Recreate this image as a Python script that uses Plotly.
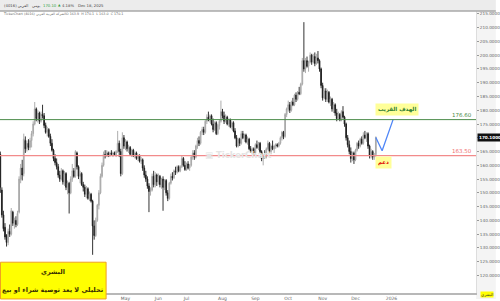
import pandas as pd
import plotly.graph_objects as go

# ---------------- data (daily OHLC) ----------------
opens = [
    164, 151, 142, 137.5, 134.5, 132, 136, 135, 143, 139, 140, 138.5, 143, 155, 159, 157, 169, 166, 168, 166.5,
    169, 171.5, 175, 180.5, 177, 179, 176, 178.5, 178, 174.5, 172, 173, 170.5, 168, 165.5, 162.5, 161, 159.5, 156.5, 155,
    158, 154, 157, 152, 153.5, 150, 155, 158, 156, 164.5, 159.5, 156, 157, 153, 152, 149.5, 151.5, 148, 149.5, 147,
    138, 134.5, 140, 145.5, 150, 156, 160, 164, 163.5, 164.5, 163.5, 164.5, 164, 164.5, 163.8, 165, 168, 165, 157, 170,
    167, 168.5, 166, 166.5, 164, 165.5, 163.5, 164.5, 162.5, 163.5, 161.5, 162, 159, 156.5, 155, 152.5, 150.5, 151, 156, 153,
    156.5, 154, 156, 153, 155, 152, 154.5, 150, 148, 153.5, 156, 155.5, 158, 157.5, 159.5, 158, 159.5, 162.5, 160, 158.5,
    160.5, 159, 160, 163, 164.5, 163, 167, 169, 168, 172, 173, 172, 176, 177.5, 176.5, 178, 175, 173, 175.5, 171.5,
    174.5, 176, 179.5, 178, 176, 177.5, 175, 176.5, 174, 175.5, 172.5, 170, 167, 169.5, 168, 171.5, 170, 171, 168.5, 169.5,
    166, 165, 166, 164.5, 167.5, 166.5, 168, 165, 162.5, 163.5, 163, 166, 168, 165, 167, 166, 167, 167.5, 167, 168,
    170, 172, 170.5, 178.5, 180.5, 182, 180, 183, 182, 185.5, 184, 186.5, 186, 189.5, 198, 195, 198, 196, 197.5, 200,
    197.5, 199.5, 197, 199, 198, 195, 189, 184.5, 187, 184, 186.5, 183, 184, 180.5, 182, 179, 177, 178.5, 176.5, 179.5,
    177.5, 175, 170, 167.5, 165, 162.5, 164.5, 162, 165.5, 168, 167, 169.5, 168, 171, 170, 171.5, 167, 163.5, 165, 163,
    163.9,
]
highs = [
    165, 152, 143.5, 139, 135, 137, 138.5, 144.5, 143.5, 141, 141.5, 143.5, 156, 160.5, 162, 171.5, 170.5, 169, 169.5, 170,
    172.5, 176, 183, 181, 180, 179.5, 179.5, 182, 179, 175.5, 174, 173.5, 171.5, 169.5, 166, 164, 162.5, 160.5, 158, 159,
    158.5, 158, 157.5, 154.5, 154, 156, 160.5, 159, 165.5, 165, 160, 158, 157.5, 154, 153, 152.5, 152, 150.5, 150, 147.5,
    140, 141, 146, 151, 157, 161, 165, 165.5, 165.5, 165, 165, 165.5, 165, 165, 165.5, 172.5, 169, 166, 172, 171,
    169.5, 169, 167.5, 167, 166, 166, 165, 165, 164, 164, 163, 162.5, 160, 158, 156, 153.5, 152, 157, 158, 157.5,
    157, 157, 156.5, 155.5, 156, 155, 155, 151, 154, 157, 157.5, 158.5, 159.5, 160, 160, 160, 163.5, 163, 161.5, 161,
    161.5, 160.5, 163.5, 165.5, 165.5, 167.5, 170, 170.5, 172.5, 174, 174, 176.5, 178.5, 179.5, 178.5, 178.5, 177, 176, 176, 175,
    176.5, 183.5, 180.5, 179.5, 178.5, 178, 177, 177, 176, 176, 173.5, 171, 170, 170, 172.5, 172.5, 171.5, 171.5, 170.5, 170,
    167, 166.5, 166.5, 168, 169, 168.5, 168.5, 165.5, 164, 165.5, 166.5, 169, 168.5, 167.5, 169, 167.5, 168, 168, 168.5, 170.5,
    172.5, 172.5, 179, 181, 183.5, 183, 183.5, 184.5, 186, 186.5, 187, 188.5, 190, 199, 212, 199, 199.5, 198, 201, 200.5,
    200.5, 201, 200.5, 201.5, 198.5, 195.5, 190, 188, 188, 187.5, 187, 185, 184.5, 183, 182.5, 180.5, 179.5, 179, 180, 181.5,
    178, 175.5, 171, 169, 166.5, 165, 165, 166, 168.5, 169, 170, 170.5, 172, 172.5, 172, 172, 167.5, 166, 165.5, 164.5,
    170.5,
]
lows = [
    150, 141, 136, 133, 130.5, 131, 134, 134.5, 138, 137, 137.5, 138, 142.5, 153.5, 154.5, 156, 164.5, 165, 165.5, 165.5,
    166.5, 170.5, 174.5, 176, 175.5, 175, 175.5, 177, 173.5, 171.5, 170.5, 170, 167, 165, 161.5, 160, 158.5, 155.5, 154, 154.5,
    153, 152.5, 151, 149.5, 142.5, 149.5, 154, 155.5, 155.5, 158.5, 155, 153.5, 152.5, 150.5, 148.5, 148, 147.5, 147, 146.5, 127.5,
    133, 134, 139.5, 144, 149.5, 155.5, 159.5, 162.5, 163, 163, 163, 163.5, 163, 163.5, 163, 164.5, 163, 156, 156.5, 166,
    165.5, 165, 164.5, 163.5, 163, 163, 162.5, 162, 161.5, 161, 160.5, 158, 155.5, 154, 151.5, 143, 149, 150.5, 152, 152,
    152.5, 153, 152, 151.5, 143.5, 151, 149, 147, 147.5, 153, 154.5, 155, 156.5, 157, 157.5, 157.5, 159, 159.5, 158, 158,
    158.5, 158, 159.5, 162, 162, 162.5, 166, 167, 167.5, 171, 171, 171.5, 175, 176, 175.5, 174.5, 172, 172.5, 171, 171,
    173, 175.5, 177, 175, 175.5, 174.5, 174, 173.5, 173, 172, 169.5, 166.5, 166.5, 167, 167.5, 169.5, 168.5, 168, 167.5, 165.5,
    164.5, 164, 163.5, 164, 166, 165.5, 164.5, 161.5, 160, 162.5, 162.5, 165.5, 164.5, 164, 165.5, 164.5, 166, 166.5, 166.5, 167.5,
    169, 169.5, 170, 177.5, 179.5, 179, 179.5, 181.5, 181.5, 183, 183.5, 185.5, 185.5, 189, 194, 193.5, 195.5, 194, 197, 196.5,
    197, 196, 196.5, 197, 194, 188, 183.5, 184, 183, 183, 182.5, 181.5, 179.5, 179, 178, 176, 176.5, 176, 176, 177,
    174, 169, 166.5, 164, 161, 161.5, 160.5, 161.5, 165, 166, 166.5, 167.5, 167.5, 169.5, 168.5, 166, 162.5, 162.5, 162, 162,
    163,
]
closes = [
    152, 142, 137, 134, 132, 136, 135, 143.5, 139, 140, 138.5, 142.5, 155, 159, 156.5, 169.5, 166, 168, 166.5, 169,
    171.5, 175, 180.5, 177, 179, 176, 178.5, 178, 174.5, 172, 173, 170.5, 168, 165.5, 162.5, 161, 159.5, 156.5, 155, 158,
    154, 157, 152, 153.5, 150, 155, 158, 156, 165, 159.5, 156, 157, 153, 152, 149.5, 151.5, 148, 149.5, 147, 138,
    134.5, 140, 145.5, 150, 156, 160, 164, 163.5, 164.5, 163.5, 164.5, 164, 164.5, 163.8, 165, 168, 165, 157, 170, 167,
    168.5, 166, 166.5, 164, 165.5, 163.5, 164.5, 162.5, 163.5, 161.5, 162, 159, 156.5, 155, 152.5, 150.5, 151, 156, 153, 156.5,
    154, 156, 153, 155, 152, 154.5, 150, 148, 153.5, 156, 155.5, 158, 157.5, 159.5, 158, 159.5, 162.5, 160, 158.5, 160.5,
    159, 160, 163, 164.5, 163, 167, 169, 168, 172, 173, 172, 176, 177.5, 176.5, 178, 175, 173, 175.5, 171.5, 174.5,
    176, 179.5, 178, 176, 177.5, 175, 176.5, 174, 175.5, 172.5, 170, 167, 169.5, 168, 171.5, 170, 171, 168.5, 169.5, 166,
    165, 166, 164.5, 167.5, 166.5, 168, 165, 162.5, 163.5, 163, 166, 168, 165, 167, 166, 167, 167.5, 167, 168, 170,
    172, 170.5, 178.5, 180.5, 182, 180, 183, 182, 185.5, 184, 186.5, 186, 189.5, 198, 195, 198, 196, 197.5, 200, 197.5,
    199.5, 197, 199, 198, 195, 189, 184.5, 187, 184, 186.5, 183, 184, 180.5, 182, 179, 177, 178.5, 176.5, 179.5, 177.5,
    175, 170, 167.5, 165, 162.5, 164.5, 162, 165.5, 168, 167, 169.5, 168, 171, 170, 171.5, 167, 163.5, 165, 163, 163.3,
    170.1,
]

# trading calendar (Sun-Thu, Tadawul holidays)
holidays = ["2025-02-23", "2025-03-27", "2025-03-30", "2025-03-31", "2025-04-01", "2025-04-02",
            "2025-04-03", "2025-06-05", "2025-06-08", "2025-06-09", "2025-06-10", "2025-09-23"]
calendar = pd.bdate_range("2024-12-31", periods=330, freq="C",
                          weekmask="Sun Mon Tue Wed Thu", holidays=holidays)
dates = calendar[:len(closes)]

# projection path (blue)
proj_dates = ["2025-12-18", "2025-12-24", "2026-01-04"]
proj_values = [170.1, 165.3, 176.6]

target_level = 176.60
support_level = 163.50
last_price = 170.10

month_ticks = ["2025-05-01", "2025-06-01", "2025-07-01", "2025-08-03", "2025-09-01",
               "2025-10-01", "2025-11-02", "2025-12-01", "2026-01-01"]
month_labels = ["May", "Jun", "Jul", "Aug", "Sep", "Oct", "Nov", "Dec", "2026"]
price_ticks = list(range(120, 216, 5))

# ---------------- figure ----------------
W, H = 500, 301
ML, MR, MT, MB = 0, 20, 11, 6
PW, PH = W - ML - MR, H - MT - MB

def px(x):
    return (x - ML) / PW

def py(y):
    return 1 - (y - MT) / PH

FONT = "DejaVu Sans, Liberation Sans, sans-serif"

fig = go.Figure()
fig.add_trace(go.Candlestick(
    x=dates, open=opens, high=highs, low=lows, close=closes,
    increasing=dict(line=dict(color="#a4a4a4", width=0.9), fillcolor="#d2d2d2"),
    decreasing=dict(line=dict(color="#1c1c1c", width=0.9), fillcolor="#1c1c1c"),
    whiskerwidth=0, hoverinfo="skip",
))
fig.add_trace(go.Scatter(x=proj_dates, y=proj_values, mode="lines",
                         line=dict(color="#4f86f7", width=1.3), hoverinfo="skip"))

x_start = calendar[0] - pd.Timedelta(hours=4.6)
x_end = calendar[304]

fig.update_layout(
    width=W, height=H, margin=dict(l=ML, r=MR, t=MT, b=MB),
    paper_bgcolor="white", plot_bgcolor="white", showlegend=False,
    font=dict(family=FONT, size=5, color="#555555"),
    xaxis=dict(
        type="date", range=[x_start, x_end], rangeslider=dict(visible=False),
        rangebreaks=[dict(bounds=["fri", "sun"]), dict(values=holidays)],
        tickvals=month_ticks, ticktext=month_labels, tickfont=dict(size=4.5, color="#666666"),
        showgrid=False, showline=True, linecolor="#b8b8b8", linewidth=2, ticks="", zeroline=False,
    ),
    yaxis=dict(
        side="right", range=[113.63, 216.05], tickvals=price_ticks,
        ticktext=[f"{v:.4f}" for v in price_ticks], tickfont=dict(size=4.2, color="#666666"),
        ticks="outside", ticklen=2, tickcolor="#999999", showgrid=False, zeroline=False,
        showline=True, linecolor="#dddddd", linewidth=1,
    ),
)

shapes = [
    # price-axis panel background
    dict(type="rect", xref="paper", yref="paper", x0=1, x1=1 + MR / PW, y0=py(H), y1=1,
         fillcolor="#f4f4f4", line=dict(width=0), layer="below"),
    # header strip
    dict(type="rect", xref="paper", yref="paper", x0=0, x1=1 + MR / PW, y0=1, y1=py(0),
         fillcolor="#ececec", line=dict(width=0)),
    dict(type="line", xref="paper", yref="paper", x0=0, x1=1 + MR / PW, y0=1, y1=1,
         line=dict(color="#a8a8a8", width=1.5)),
    # horizontal levels
    dict(type="line", xref="paper", yref="y", x0=0, x1=1, y0=target_level, y1=target_level,
         line=dict(color="#4c8c4a", width=1)),
    dict(type="line", xref="paper", yref="y", x0=0, x1=1, y0=support_level, y1=support_level,
         line=dict(color="#f28b8b", width=1.3)),
    # disclaimer box
    dict(type="rect", xref="paper", yref="paper", x0=px(0.5), x1=px(107), y0=py(301), y1=py(264),
         fillcolor="#ffff00", line=dict(color="#f0a020", width=1), layer="above"),
]
fig.update_layout(shapes=shapes)

ann = []

def note(x, y, text, size, color, xanchor="center", yanchor="middle", **kw):
    ann.append(dict(xref="paper", yref="paper", x=px(x), y=py(y), text=text, showarrow=False,
                    xanchor=xanchor, yanchor=yanchor, font=dict(size=size, color=color), **kw))

# level labels
ann.append(dict(xref="paper", yref="y", x=px(478), y=target_level, text="176.60", showarrow=False,
                xanchor="right", yanchor="bottom", font=dict(size=5.5, color="#4c8c4a")))
ann.append(dict(xref="paper", yref="y", x=px(478), y=support_level, text="163.50", showarrow=False,
                xanchor="right", yanchor="bottom", font=dict(size=5.5, color="#f07070")))
# current price badge
ann.append(dict(xref="paper", yref="y", x=1 + 1 / PW, y=last_price, text="<b>170.1000</b>", showarrow=False,
                xanchor="left", yanchor="middle", bgcolor="#111111", borderpad=1,
                font=dict(size=4.2, color="white")))
# bubbles
note(400, 110, "<b>الهدف القريب</b>", 5.5, "#2e7d32", bgcolor="#ffff99", borderpad=2)
note(387, 163.5, "<b>دعم</b>", 5.5, "#e00000", bgcolor="#ffff99", borderpad=2)
# watermark
note(240, 156.5, "<b>▣ TickerChart</b>", 8.5, "#e4e4e4")
# disclaimer text
note(53, 273.5, "<b>البشري</b>", 6.5, "#3a3000")
note(53, 291.5, "<b>تحليلي لا يعد توصية شراء او بيع</b>", 6.5, "#3a3000")
# header line 1
note(2, 5, "العربي (4016)", 3.8, "#444444", xanchor="left")
note(30, 5, "يومي", 3.8, "#444444", xanchor="left")
note(41, 5, "170.10", 3.8, "#2e9e3e", xanchor="left")
note(56, 5, "▲", 3.3, "#2e9e3e", xanchor="left")
note(61, 5, "4.18%", 3.8, "#444444", xanchor="left")
note(77, 5, "Dec 18, 2025", 3.8, "#444444", xanchor="left")
# header line 2
note(1, 14.5, "TickerChart (4016) العربي", 3.3, "#666666", xanchor="left")
note(44, 14.5, "الشركة العربية", 3.3, "#666666", xanchor="left")
note(65, 14.5, "O 163.9  H 170.1  L 163.0  C 170.1", 3.3, "#666666", xanchor="left")
# bottom-right badge
note(491, 297, "البشري", 4, "#333333", bgcolor="#ffff00", borderpad=0)
fig.update_layout(annotations=ann)

fig.write_html("out.html")
